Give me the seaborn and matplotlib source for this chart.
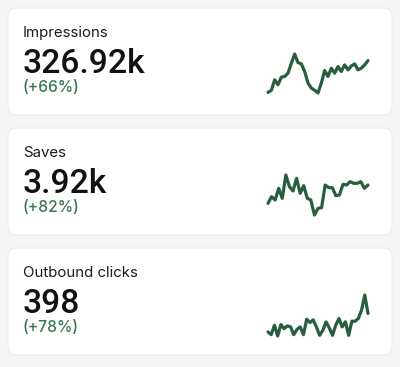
import matplotlib
matplotlib.use("Agg")
import matplotlib.pyplot as plt
from matplotlib.patches import FancyBboxPatch
import numpy as np
import pandas as pd
import seaborn as sns

sns.set_theme(style="white")
plt.rcParams['font.family'] = ['Inter', 'DejaVu Sans']

titles = ["Impressions", "Saves", "Outbound clicks"]
totals = ["326.92k", "3.92k", "398"]
changes = ["(+66%)", "(+82%)", "(+78%)"]

impressions = [22, 28, 60, 45, 68, 70, 80, 110, 138, 112, 108, 85, 50, 35, 28, 20,
               50, 88, 70, 95, 80, 100, 85, 105, 90, 102, 108, 90, 95, 105, 118]
saves = [65, 85, 75, 110, 80, 150, 115, 102, 140, 95, 118, 80, 75, 30, 50, 52,
         120, 112, 112, 88, 90, 122, 120, 130, 125, 125, 130, 110, 120]
outbound = [40, 32, 60, 28, 62, 50, 58, 55, 32, 48, 55, 32, 78, 68, 76, 55, 30,
            45, 70, 52, 30, 60, 80, 55, 70, 30, 72, 72, 80, 105, 150, 95]
series = [impressions, saves, outbound]

W, H = 400, 367
fig = plt.figure(figsize=(4.0, 3.67), dpi=100)
fig.patch.set_facecolor("#f4f4f4")
bg = fig.add_axes([0, 0, 1, 1])
bg.set_xlim(0, W)
bg.set_ylim(H, 0)
bg.axis("off")

line_color = "#275e3d"
pct_color = "#3a7753"
card_tops = [8, 128, 248]
card_h = 107
spark_y = [(54, 93), (175, 215), (295, 336)]

for i, top in enumerate(card_tops):
    card = FancyBboxPatch((8, top), 384, card_h,
                          boxstyle="round,pad=0,rounding_size=9",
                          facecolor="white", edgecolor="#ececec", linewidth=0.8)
    bg.add_patch(card)
    bg.text(23, top + 29, titles[i], fontsize=10.8, color="#1c1c1c",
            va="baseline", ha="left")
    bg.text(23, top + 65.3, totals[i], fontsize=24.2, color="#111111",
            fontweight="medium", va="baseline", ha="left",
            family=["Roboto", "DejaVu Sans"])
    bg.text(23, top + 84.5, changes[i], fontsize=11.2, color=pct_color,
            fontweight="medium", va="baseline", ha="left")

    y0, y1 = spark_y[i]
    x0, x1 = 268, 368
    ax = fig.add_axes([x0 / W, (H - y1) / H, (x1 - x0) / W, (y1 - y0) / H])
    vals = series[i]
    df = pd.DataFrame({"t": np.arange(len(vals)), "v": vals})
    sns.lineplot(data=df, x="t", y="v", ax=ax, color=line_color, linewidth=2.3,
                 solid_joinstyle="round", solid_capstyle="round")
    ax.set_xlim(0, len(vals) - 1)
    ax.set_ylim(min(vals), max(vals))
    ax.axis("off")
    for ln in ax.lines:
        ln.set_clip_on(False)

fig.savefig("out.png", dpi=100, facecolor=fig.get_facecolor())
